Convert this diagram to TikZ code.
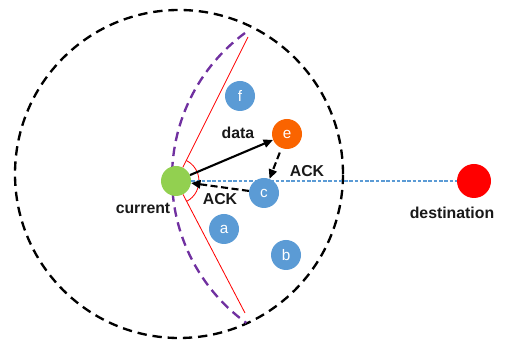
\documentclass[tikz,border=0pt]{standalone}
\usepackage{fontspec}
\setmainfont{Liberation Sans}
\usepackage{tikz}
\usetikzlibrary{shapes.geometric, arrows, arrows.meta}
\definecolor{nodegreen}{RGB}{146,208,80}
\definecolor{nodeorange}{RGB}{250,100,0}
\definecolor{nodeblue}{RGB}{91,155,213}
\definecolor{rangepurple}{RGB}{112,48,160}
\tikzstyle{sensor} = [circle, minimum size=0.9cm, inner sep=0pt, text=white, font=\fontsize{13}{15}\selectfont]
\tikzstyle{tag} = [font=\fontsize{13.5}{15}\selectfont\bfseries, text=black!90]
\tikzstyle{arrow} = [line width=1.8pt,-{Triangle[length=8pt,width=7pt]}]
\tikzstyle{ackarrow} = [line width=1.8pt,-{Triangle[length=8pt,width=7pt]}, dash pattern=on 6pt off 3pt]
\tikzstyle{rangeline} = [line width=2pt, dash pattern=on 8pt off 5pt]
\begin{document}
\begin{tikzpicture}[x=0.03cm, y=0.03cm]
\useasboundingbox (0,0) rectangle (505,343);

% Range
\draw [rangeline, black] (179,169) circle [radius=164];
\draw [rangeline, rangepurple] (245,310) arc [start angle=126.4, end angle=234.1, radius=179.5];

% Nodes
\node (current) [sensor, fill=nodegreen] at (176,162) {};
\node (e) [sensor, fill=nodeorange] at (287,209) {e};
\node (c) [sensor, fill=nodeblue] at (264,150) {c};
\node (f) [sensor, fill=nodeblue] at (240,247) {f};
\node (a) [sensor, fill=nodeblue] at (224,114) {a};
\node (b) [sensor, fill=nodeblue] at (286,88) {b};
\node (destination) [circle, minimum size=1.02cm, inner sep=0pt, fill=red] at (474,162) {};
\coordinate (uppertip) at (248,306);
\coordinate (lowertip) at (245,30);

% Labels
\node [tag] at (143,135) {current};
\node [tag] at (452,130) {destination};
\node [tag] at (238,210) {data};
\node [tag] at (307,172) {ACK};
\node [tag] at (220,144) {ACK};

% Lines
\draw [red, line width=0.7pt] (current) -- (uppertip);
\draw [red, line width=0.7pt] (current) -- (lowertip);
\draw [red, line width=0.7pt] ([shift={(63.4:23)}]current.center) arc [start angle=63.4, end angle=-62.4, radius=23];
\draw [nodeblue, line width=1.1pt, dash pattern=on 3pt off 1.5pt] (current) -- (destination);

% Arrows
\draw [arrow] (current) -- (e);
\draw [ackarrow, shorten <=4pt] (e) -- (c);
\draw [ackarrow] (c) -- (current);

\end{tikzpicture}
\end{document}
